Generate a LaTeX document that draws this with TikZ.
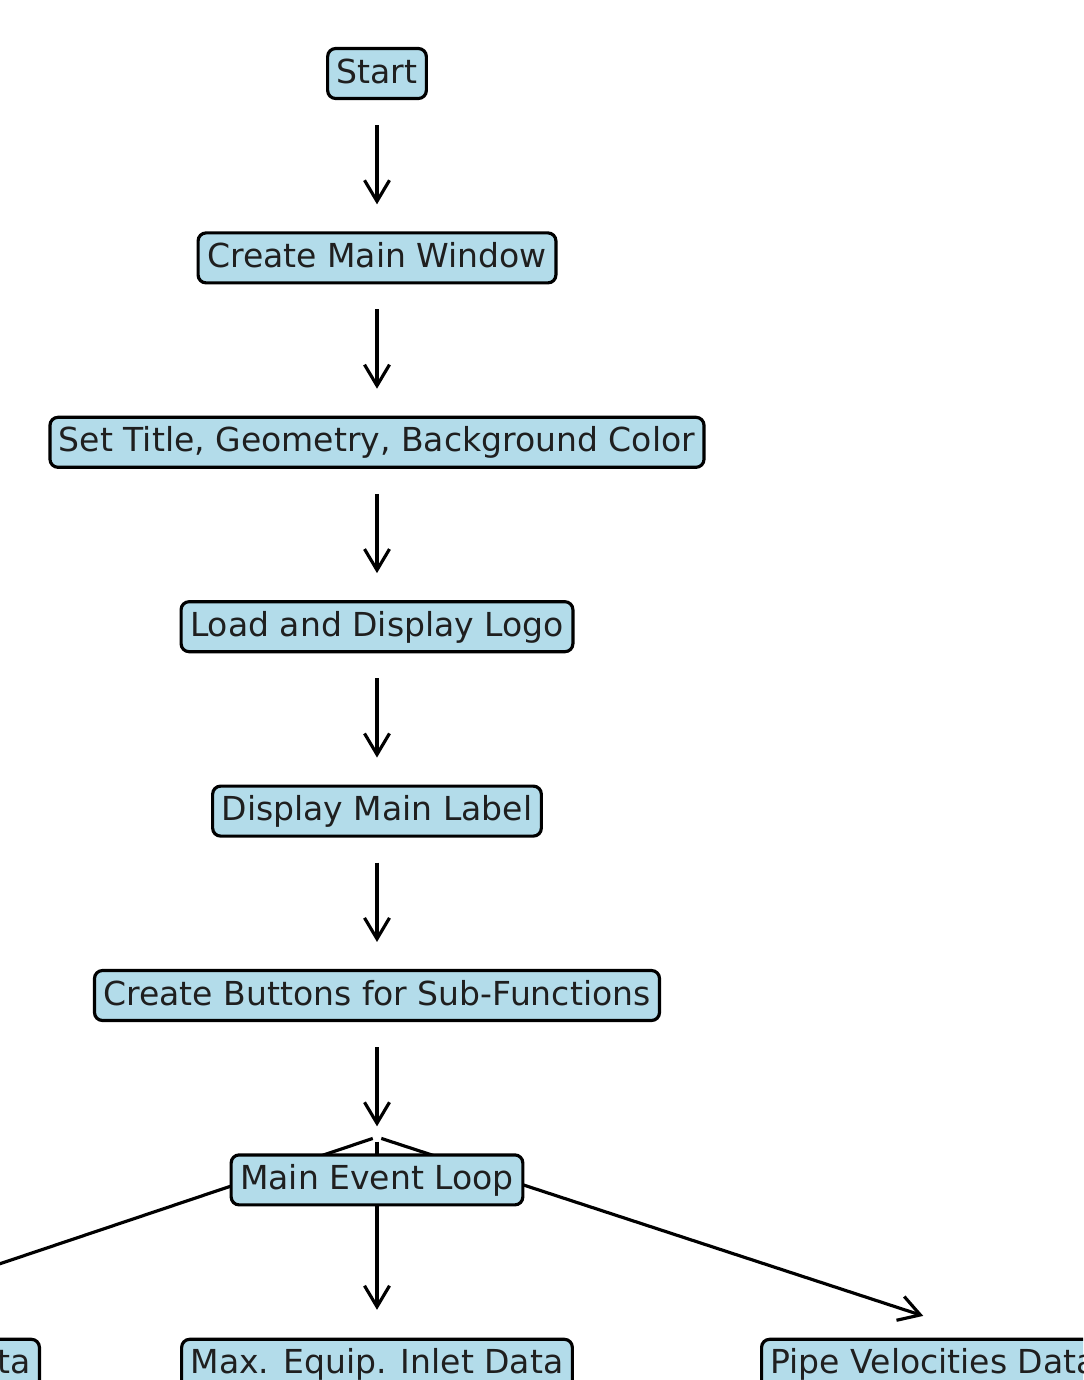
\documentclass[tikz,border=0pt]{standalone}
\usepackage{fontspec}
\setmainfont{DejaVu Sans}
\usetikzlibrary{arrows.meta,backgrounds}
\definecolor{boxblue}{HTML}{B3DCEA}

\begin{document}
\begin{tikzpicture}[x=0.02cm,y=-0.02cm,
		block/.style={draw=black, line width=1.8pt, fill=boxblue, rounded corners=0.16cm,
			text=black!88, font=\fontsize{18.8pt}{22pt}\selectfont,
			text height=0.52cm, text depth=0.14cm, inner xsep=0.18cm, inner ysep=0.17cm},
		flow/.style={-{Straight Barb[length=0.42cm,width=0.5cm]}, line width=1.8pt,
			shorten <=0.5cm, shorten >=0.54cm},
		fan/.style={flow, shorten <=0.09cm, shorten >=0.22cm}]
		\useasboundingbox (0,0) rectangle (1083,1380);
		\clip (0,0) rectangle (1083,1380);

		\draw (377,73.5) node [block] (start) {Start};
		\draw (377,257.9) node [block] (win) {Create Main Window};
		\draw (377,442.3) node [block] (title) {Set Title, Geometry, Background Color};
		\draw (377,626.7) node [block] (logo) {Load and Display Logo};
		\draw (377,811.1) node [block] (label) {Display Main Label};
		\draw (377,995.5) node [block] (btns) {Create Buttons for Sub-Functions};
		\draw (377,1179.9) node [block] (loop) {Main Event Loop};
		\draw (41,1364.3) node [block, anchor=east] (left) {Pipe Pressure Drop Data};
		\draw (377,1364.3) node [block] (mid) {Max. Equip. Inlet Data};
		\draw (760,1364.3) node [block, anchor=west] (right) {Pipe Velocities Data};

		% where the fan of edges leaves the event loop
		\coordinate (hub) at (377,1137);
		\coordinate (left-in) at ([yshift=0.87cm]left.center);
		\coordinate (mid-in) at ([yshift=0.87cm]mid.center);
		\coordinate (right-in) at ([yshift=0.9cm]right.center);

		\draw
			(start) edge [flow] (win)
			(win) edge [flow] (title)
			(title) edge [flow] (logo)
			(logo) edge [flow] (label)
			(label) edge [flow] (btns)
			(btns) edge [flow] (loop)
		;

		\begin{scope}[on background layer]
			\draw
				(hub) edge [fan] (left-in)
				(hub) edge [fan] (mid-in)
				(hub) edge [fan] (right-in)
			;
		\end{scope}
	\end{tikzpicture}
\end{document}
